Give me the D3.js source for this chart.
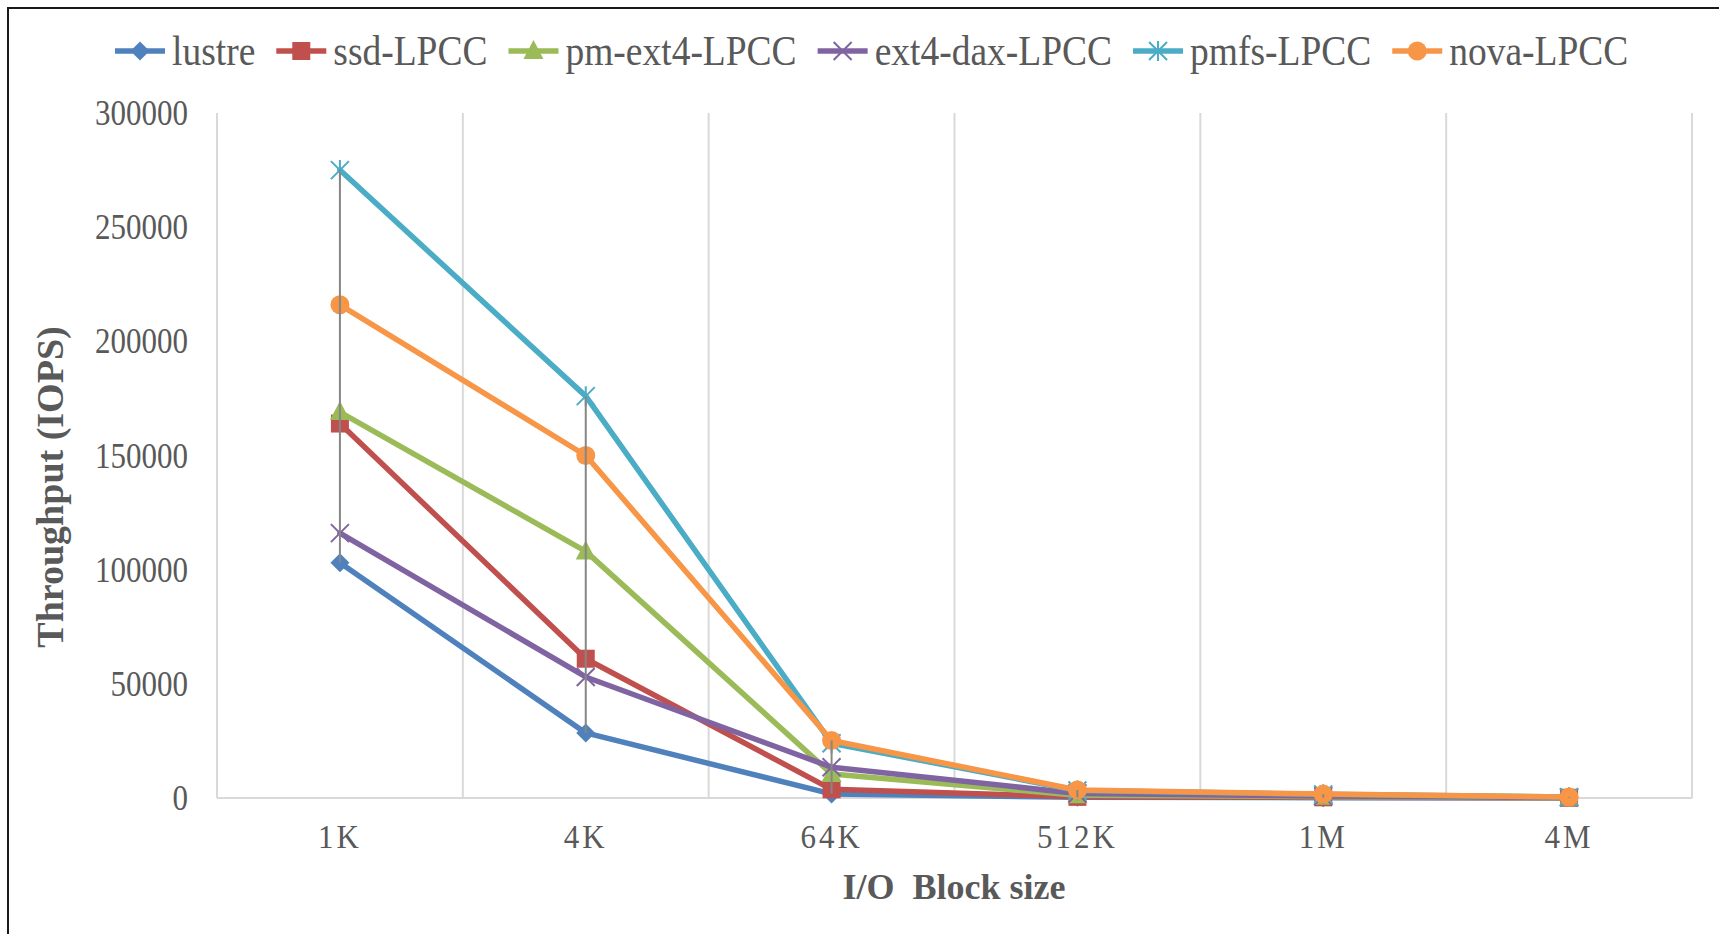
<!DOCTYPE html>
<html>
<head>
<meta charset="utf-8">
<script src="https://cdn.jsdelivr.net/npm/d3@7"></script>
<style>
  html, body { margin: 0; padding: 0; background: #fff; }
  svg { display: block; }
  text { font-family: "Liberation Serif", "Times New Roman", serif; fill: #595959; }
  .tall { transform-box: fill-box; transform-origin: center; }
</style>
</head>
<body>
<svg id="chart" width="1719" height="934"></svg>
<script>
// Block sizes on the x axis
const categories = ["1K", "4K", "64K", "512K", "1M", "4M"];

// Throughput (IOPS) per block size
const lustre  = [103000, 28500, 1800, 300, 150, 60];
const ssdLPCC = [164000, 61000, 3800, 500, 300, 100];
const pmExt4  = [169000, 108000, 10500, 1200, 600, 150];
const ext4Dax = [116000, 53000, 13500, 2000, 900, 250];
const pmfs    = [275000, 176000, 24000, 3300, 1600, 400];
const nova    = [216000, 150000, 25200, 3500, 1700, 400];

const seriesNames = ["lustre", "ssd-LPCC", "pm-ext4-LPCC", "ext4-dax-LPCC", "pmfs-LPCC", "nova-LPCC"];
const yTicks = [0, 50000, 100000, 150000, 200000, 250000, 300000];

const series = [
  { name: seriesNames[0], values: lustre,  color: "#4F81BD", marker: "diamond" },
  { name: seriesNames[1], values: ssdLPCC, color: "#C0504D", marker: "square" },
  { name: seriesNames[2], values: pmExt4,  color: "#9BBB59", marker: "triangle" },
  { name: seriesNames[3], values: ext4Dax, color: "#8064A2", marker: "cross" },
  { name: seriesNames[4], values: pmfs,    color: "#4BACC6", marker: "star" },
  { name: seriesNames[5], values: nova,    color: "#F79646", marker: "circle" }
];

const svg = d3.select("#chart");

// chart frame
svg.append("rect").attr("x", 8).attr("y", 8).attr("width", 1760).attr("height", 1000)
  .attr("fill", "none").attr("stroke", "#1a1a1a").attr("stroke-width", 2);

const plot = { left: 217, right: 1692, top: 113, bottom: 798 };

const x = d3.scaleBand().domain(categories).range([plot.left, plot.right]).padding(0);
const y = d3.scaleLinear().domain([0, 300000]).range([plot.bottom, plot.top]);
const cx = c => x(c) + x.bandwidth() / 2;

// vertical gridlines between categories
const bounds = categories.map(c => x(c)).concat([plot.right]);
svg.append("g").selectAll("line").data(bounds).join("line")
  .attr("x1", d => d).attr("x2", d => d)
  .attr("y1", plot.top).attr("y2", plot.bottom)
  .attr("stroke", "#D9D9D9").attr("stroke-width", 2);

// category axis line
svg.append("line").attr("x1", plot.left).attr("x2", plot.right)
  .attr("y1", y(0)).attr("y2", y(0))
  .attr("stroke", "#D9D9D9").attr("stroke-width", 2);

// y axis labels
const yAxis = d3.axisLeft(y).tickValues(yTicks).tickSize(0).tickPadding(0).tickFormat(d3.format("d"));
const gy = svg.append("g").attr("transform", `translate(${plot.left - 29},0)`).call(yAxis);
gy.select(".domain").remove();
gy.selectAll("text")
  .attr("class", "tall")
  .style("transform", "scaleY(1.15)")
  .style("font-family", "'Liberation Serif', serif")
  .style("font-size", "31px").attr("fill", "#595959");

// x axis labels
const xAxis = d3.axisBottom(x).tickSize(0).tickPadding(0);
const gx = svg.append("g").attr("transform", `translate(0,${plot.bottom + 27})`).call(xAxis);
gx.select(".domain").remove();
gx.selectAll("text")
  .attr("class", "tall")
  .style("transform", "scaleY(1.12)")
  .style("font-family", "'Liberation Serif', serif")
  .style("font-size", "31px").style("letter-spacing", "3px").attr("fill", "#595959");

// axis titles
svg.append("text").attr("x", 954).attr("y", 899)
  .attr("text-anchor", "middle").style("white-space", "pre")
  .style("font-size", "36px").style("font-weight", "bold")
  .text("I/O  Block size");

svg.append("text").attr("transform", "translate(63,487) rotate(-90)")
  .attr("text-anchor", "middle")
  .style("font-size", "38px").style("font-weight", "bold")
  .text("Throughput (IOPS)");

// marker shapes
function drawMarker(g, type, color) {
  switch (type) {
    case "diamond":
      g.append("path").attr("d", "M0,-9.5L9.5,0L0,9.5L-9.5,0Z").attr("fill", color);
      break;
    case "square":
      g.append("rect").attr("x", -9).attr("y", -9).attr("width", 18).attr("height", 18).attr("fill", color);
      break;
    case "triangle":
      g.append("path").attr("d", "M0,-11L10,8L-10,8Z").attr("fill", color);
      break;
    case "cross":
      g.append("path").attr("d", "M-9,-9L9,9M9,-9L-9,9").attr("stroke", color).attr("stroke-width", 2).attr("fill", "none");
      break;
    case "star":
      g.append("path").attr("d", "M-9,-9L9,9M9,-9L-9,9M0,-10L0,10").attr("stroke", color).attr("stroke-width", 2).attr("fill", "none");
      break;
    case "circle":
      g.append("circle").attr("r", 9.5).attr("fill", color);
      break;
  }
}

// series lines and markers
const line = d3.line().x((d, i) => cx(categories[i])).y(d => y(d));
series.forEach(s => {
  const g = svg.append("g");
  g.append("path").datum(s.values).attr("d", line)
    .attr("fill", "none").attr("stroke", s.color).attr("stroke-width", 5.5)
    .attr("stroke-linejoin", "round").attr("stroke-linecap", "round");
  s.values.forEach((v, i) => {
    const m = g.append("g").attr("transform", `translate(${cx(categories[i])},${y(v)})`);
    drawMarker(m, s.marker, s.color);
  });
});

// drop lines from highest to lowest value in each category
svg.append("g").selectAll("line").data(categories).join("line")
  .attr("x1", c => cx(c)).attr("x2", c => cx(c))
  .attr("y1", (c, i) => y(d3.max(series, s => s.values[i])))
  .attr("y2", (c, i) => y(d3.min(series, s => s.values[i])))
  .attr("stroke", "#868686").attr("stroke-width", 2);

// legend
let lx = 115;
const ly = 51;
const legend = svg.append("g");
series.forEach(s => {
  const g = legend.append("g");
  g.append("line").attr("x1", lx).attr("x2", lx + 50).attr("y1", ly).attr("y2", ly)
    .attr("stroke", s.color).attr("stroke-width", 5.5);
  const m = g.append("g").attr("transform", `translate(${lx + 25},${ly})`);
  drawMarker(m, s.marker, s.color);
  const t = g.append("text").attr("x", lx + 57).attr("y", ly).attr("dy", "0.35em")
    .attr("class", "tall").style("transform", "scaleY(1.1)")
    .style("font-size", "37.5px").text(s.name);
  lx = lx + 57 + t.node().getComputedTextLength() + 21;
});
</script>
</body>
</html>
